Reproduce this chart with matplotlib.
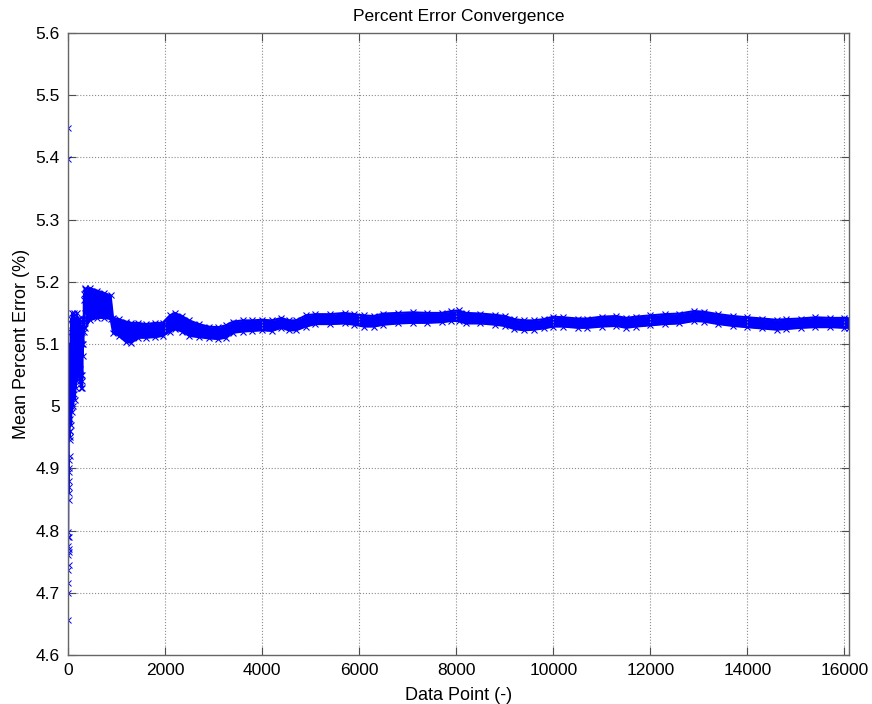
import numpy as np
import matplotlib.pyplot as plt

plt.rcParams['font.family'] = ['Liberation Sans', 'DejaVu Sans']

# first data points (running mean still jumping around)
start_x = [1, 2, 3, 4, 5, 6, 7, 8, 9, 10, 12, 14, 16, 18, 20, 22, 24, 26, 28,
           30, 32, 34, 36, 38]
start_y = [5.447, 5.397, 4.656, 4.700, 4.716, 4.737, 4.760, 4.775, 4.790,
           4.798, 4.770, 4.745, 4.765, 4.790, 4.850, 4.870, 4.900, 4.914,
           4.880, 4.860, 4.895, 4.920, 4.945, 4.960]

# points 40..350 (every 5th)
early_x = np.arange(40, 351, 5)
early_y = [4.95, 5.10, 4.98, 5.12, 5.00, 5.14, 4.97, 5.13, 5.02, 5.15,
           4.99, 5.11, 5.03, 5.14, 5.00, 5.13, 5.04, 5.15, 5.02, 5.12,
           5.05, 5.14, 5.01, 5.13, 5.05, 5.14, 5.03, 5.12, 5.06, 5.15,
           5.04, 5.13, 5.06, 5.14, 5.05, 5.12, 5.07, 5.14, 5.05, 5.13,
           5.06, 5.14, 5.04, 5.12, 5.05, 5.13, 5.03, 5.11, 5.04, 5.12,
           5.03, 5.10, 5.05, 5.13, 5.08, 5.14, 5.10, 5.17, 5.12, 5.18,
           5.14, 5.19, 5.15]

# later data: dense band, lower and upper edge
band_x = [350, 450, 600, 750, 880, 930, 1050, 1200, 1300, 1450, 1600, 1800,
          1950, 2100, 2200, 2350, 2500, 2700, 2900, 3100, 3250, 3400, 3600,
          3800, 4000, 4200, 4400, 4550, 4700, 4900, 5100, 5400, 5700, 5900,
          6100, 6300, 6500, 6800, 7100, 7400, 7700, 7900, 8050, 8200, 8500,
          8800, 9000, 9200, 9400, 9600, 9800, 10000, 10200, 10500, 10700,
          11000, 11300, 11500, 11700, 12000, 12300, 12600, 12900, 13100,
          13400, 13700, 14000, 14300, 14600, 14800, 15100, 15400, 15700,
          16000, 16100]
band_lo = [5.125, 5.138, 5.142, 5.142, 5.140, 5.118, 5.113, 5.103, 5.102,
           5.110, 5.110, 5.111, 5.113, 5.120, 5.124, 5.120, 5.113, 5.111,
           5.109, 5.108, 5.110, 5.118, 5.120, 5.121, 5.122, 5.121, 5.126,
           5.122, 5.122, 5.128, 5.132, 5.132, 5.133, 5.131, 5.128, 5.128,
           5.131, 5.133, 5.134, 5.134, 5.135, 5.137, 5.137, 5.133, 5.133,
           5.131, 5.129, 5.124, 5.122, 5.123, 5.125, 5.128, 5.128, 5.126,
           5.126, 5.128, 5.129, 5.126, 5.128, 5.130, 5.132, 5.133, 5.137,
           5.136, 5.132, 5.129, 5.127, 5.125, 5.123, 5.124, 5.126, 5.127,
           5.127, 5.126, 5.126]
band_hi = [5.188, 5.190, 5.186, 5.182, 5.178, 5.142, 5.140, 5.136, 5.134,
           5.134, 5.132, 5.134, 5.134, 5.146, 5.150, 5.145, 5.138, 5.132,
           5.128, 5.127, 5.130, 5.136, 5.138, 5.138, 5.139, 5.138, 5.142,
           5.138, 5.138, 5.146, 5.148, 5.148, 5.150, 5.148, 5.146, 5.145,
           5.149, 5.150, 5.151, 5.150, 5.150, 5.153, 5.154, 5.150, 5.149,
           5.147, 5.145, 5.140, 5.138, 5.138, 5.140, 5.144, 5.143, 5.141,
           5.141, 5.144, 5.145, 5.142, 5.144, 5.146, 5.148, 5.149, 5.153,
           5.152, 5.148, 5.145, 5.143, 5.141, 5.139, 5.140, 5.141, 5.143,
           5.142, 5.142, 5.141]

fig = plt.figure(figsize=(8.72, 7.04), dpi=100)
ax = fig.add_axes([0.0779, 0.0696, 0.8961, 0.8835])

ax.plot(start_x, start_y, color='blue', lw=0.6, marker='x', ms=5, mew=0.7)
ax.plot(np.r_[start_x[-1], early_x], np.r_[start_y[-1], early_y],
        color='blue', lw=1.2, marker='x', ms=5, mew=0.8)
ax.fill_between(band_x, band_lo, band_hi, color='blue', lw=0)
ax.plot(band_x, band_lo, color='blue', lw=1.5, marker='x', ms=5, mew=0.8)
ax.plot(band_x, band_hi, color='blue', lw=1.5, marker='x', ms=5, mew=0.8)

ax.set_xlim(0, 16100)
ax.set_ylim(4.6, 5.6)
ax.set_xticks(np.arange(0, 16001, 2000))
ax.set_yticks(np.arange(4.6, 5.61, 0.1))
ax.set_yticklabels(['4.6', '4.7', '4.8', '4.9', '5', '5.1', '5.2', '5.3',
                    '5.4', '5.5', '5.6'])
ax.grid(True, linestyle=':', color='0.55', lw=0.8)
ax.tick_params(direction='in', length=6, top=True, right=True,
               labelsize=12.5, color='0.3', pad=6)
for s in ax.spines.values():
    s.set_color('0.4')
    s.set_linewidth(1.0)

ax.set_title('Percent Error Convergence', fontsize=12.5, pad=9)
ax.set_xlabel('Data Point (-)', fontsize=13, labelpad=6)
ax.set_ylabel('Mean Percent Error (%)', fontsize=13, labelpad=4)

plt.savefig('out.png', dpi=100)
